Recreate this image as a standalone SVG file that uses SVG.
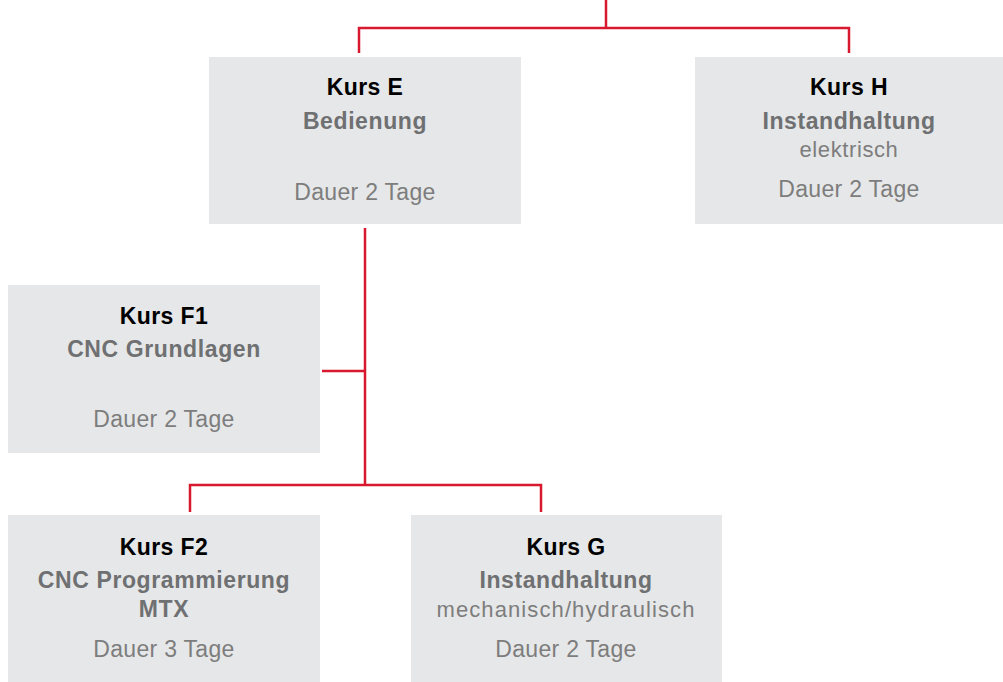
<svg xmlns="http://www.w3.org/2000/svg" width="1003" height="682" viewBox="0 0 1003 682">
<style>
.box{fill:#e6e7e8}
.con{fill:none;stroke:#d7182f;stroke-width:2.5}
text{font-family:"Liberation Sans",Arial,sans-serif;text-anchor:middle}
.t{font-weight:bold;font-size:23px;fill:#000;letter-spacing:0.4px}
.s{font-weight:bold;font-size:23px;fill:#6f7072;letter-spacing:0.6px}
.d{font-size:22px;fill:#7d7d7d;letter-spacing:0.6px}
.w{letter-spacing:1.1px}
.u{font-size:23px;fill:#7d7d7d;letter-spacing:0.3px}
</style>
<g id="connectors">
<path class="con" d="M606 0V28M359 53V28H849V53"/>
<path class="con" d="M365 228V485M322 371H365M190 512V485H541V512"/>
</g>
<g id="kursE">
<rect class="box" x="209" y="57" width="312" height="167"/>
<text class="t" x="365" y="95">Kurs E</text>
<text class="s" x="365" y="129">Bedienung</text>
<text class="u" x="365" y="200">Dauer 2 Tage</text>
</g>
<g id="kursH">
<rect class="box" x="695" y="57" width="308" height="167"/>
<text class="t" x="849" y="95">Kurs H</text>
<text class="s" x="849" y="129">Instandhaltung</text>
<text class="d" x="849" y="157">elektrisch</text>
<text class="u" x="849" y="197">Dauer 2 Tage</text>
</g>
<g id="kursF1">
<rect class="box" x="8" y="285" width="312" height="168"/>
<text class="t" x="164" y="324">Kurs F1</text>
<text class="s" x="164" y="357">CNC Grundlagen</text>
<text class="u" x="164" y="427">Dauer 2 Tage</text>
</g>
<g id="kursF2">
<rect class="box" x="8" y="515" width="312" height="167"/>
<text class="t" x="164" y="555">Kurs F2</text>
<text class="s" x="164" y="588">CNC Programmierung</text>
<text class="s" x="164" y="617">MTX</text>
<text class="u" x="164" y="657">Dauer 3 Tage</text>
</g>
<g id="kursG">
<rect class="box" x="411" y="515" width="311" height="167"/>
<text class="t" x="566" y="555">Kurs G</text>
<text class="s" x="566" y="588">Instandhaltung</text>
<text class="d w" x="566" y="617">mechanisch/hydraulisch</text>
<text class="u" x="566" y="657">Dauer 2 Tage</text>
</g>
</svg>
